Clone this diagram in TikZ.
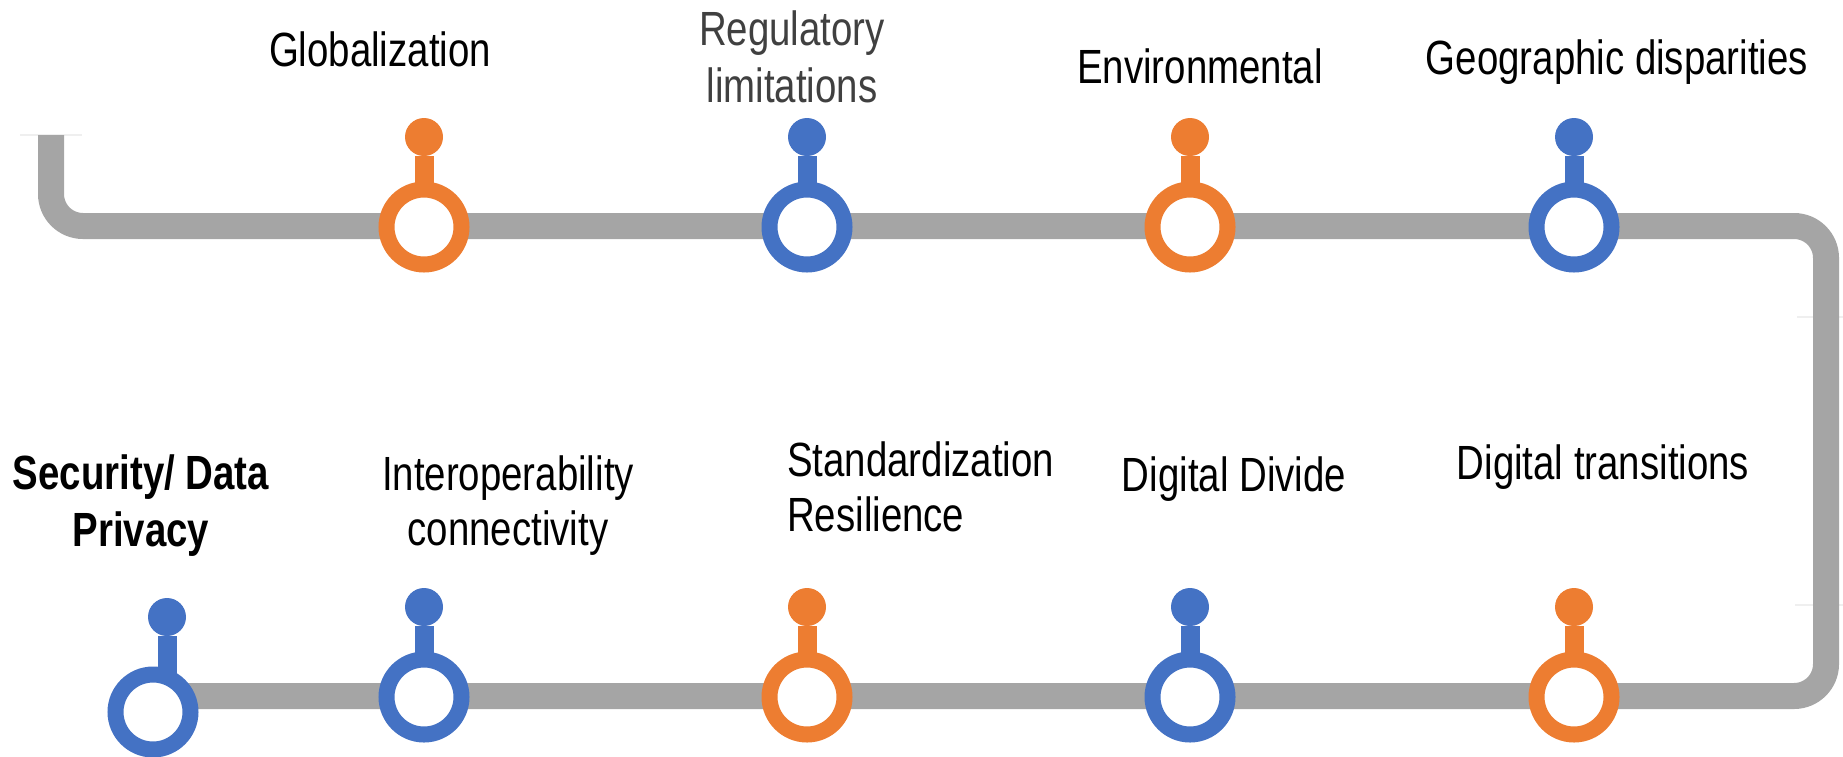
\documentclass[tikz,border=0pt]{standalone}
\usepackage{fontspec}
\setmainfont[FakeStretch=0.80]{Liberation Sans}
\definecolor{trackgray}{HTML}{A5A5A5}
\definecolor{mor}{HTML}{ED7D31}
\definecolor{mbl}{HTML}{4472C4}
\definecolor{txtgray}{HTML}{404040}
\definecolor{faint}{HTML}{EFEFEF}
\tikzset{
  track/.style={draw=trackgray, line width=26pt, rounded corners=32pt},
  ring/.style={circle, draw=#1, fill=white, line width=16pt, minimum size=75pt, inner sep=0pt, outer sep=0pt},
  knob/.style={circle, fill=#1, minimum size=38pt, inner sep=0pt, outer sep=0pt},
  stem/.style={draw=#1, line width=19pt},
  lbl/.style={font=\fontsize{48}{55}\selectfont, inner sep=0pt, anchor=base, align=center, text=black},
  faintline/.style={draw=faint, line width=2pt}
}
\begin{document}
\begin{tikzpicture}[x=1pt, y=-1pt]
\useasboundingbox (0,0) rectangle (1843,756);
% faint marks
\draw[faintline] (20,135) -- (82,135);
\draw[faintline] (1797,317) -- (1843,317);
\draw[faintline] (1795,605) -- (1843,605);
% track
\coordinate (tstart) at (51,135);
\coordinate (tc1) at (51,226);
\coordinate (tc2) at (1826,226);
\coordinate (tc3) at (1826,696);
\coordinate (tend) at (160,696);
\draw[track] (tstart) -- (tc1) -- (tc2) -- (tc3) -- (tend);
% top milestones
\node[ring=mor] (r1) at (424,227) {};
\node[knob=mor] (k1) at (424,137) {};
\draw[stem=mor] (k1) -- (r1);
\node[ring=mbl] (r2) at (807,227) {};
\node[knob=mbl] (k2) at (807,137) {};
\draw[stem=mbl] (k2) -- (r2);
\node[ring=mor] (r3) at (1190,227) {};
\node[knob=mor] (k3) at (1190,137) {};
\draw[stem=mor] (k3) -- (r3);
\node[ring=mbl] (r4) at (1574,227) {};
\node[knob=mbl] (k4) at (1574,137) {};
\draw[stem=mbl] (k4) -- (r4);
% bottom milestones
\node[ring=mbl] (b0) at (153,712) {};
\node[knob=mbl] (q0) at (167,617) {};
\draw[stem=mbl] (q0) -- (q0 |- b0.north);
\node[ring=mbl] (b1) at (424,697) {};
\node[knob=mbl] (q1) at (424,607) {};
\draw[stem=mbl] (q1) -- (b1);
\node[ring=mor] (b2) at (807,697) {};
\node[knob=mor] (q2) at (807,607) {};
\draw[stem=mor] (q2) -- (b2);
\node[ring=mbl] (b3) at (1190,697) {};
\node[knob=mbl] (q3) at (1190,607) {};
\draw[stem=mbl] (q3) -- (b3);
\node[ring=mor] (b4) at (1574,697) {};
\node[knob=mor] (q4) at (1574,607) {};
\draw[stem=mor] (q4) -- (b4);
% labels
\node[lbl] (t1) at (380,66) {Globalization};
\node[lbl, text=txtgray, font=\fontsize{48}{57}\selectfont] (t2) at (792,102) {Regulatory\\limitations};
\node[lbl] (t3) at (1200,83) {Environmental};
\node[lbl] (t4) at (1617,74) {Geographic disparities};
\node[lbl, font=\fontsize{48}{57}\selectfont\bfseries] (s0) at (141,546) {Security/ Data\\Privacy};
\node[lbl] (s1) at (508,545) {Interoperability\\connectivity};
\node[lbl, align=left, anchor=base west] (s2) at (787,531) {Standardization\\Resilience};
\node[lbl] (s3) at (1234,491) {Digital Divide};
\node[lbl] (s4) at (1603,479) {Digital transitions};
\end{tikzpicture}
\end{document}
